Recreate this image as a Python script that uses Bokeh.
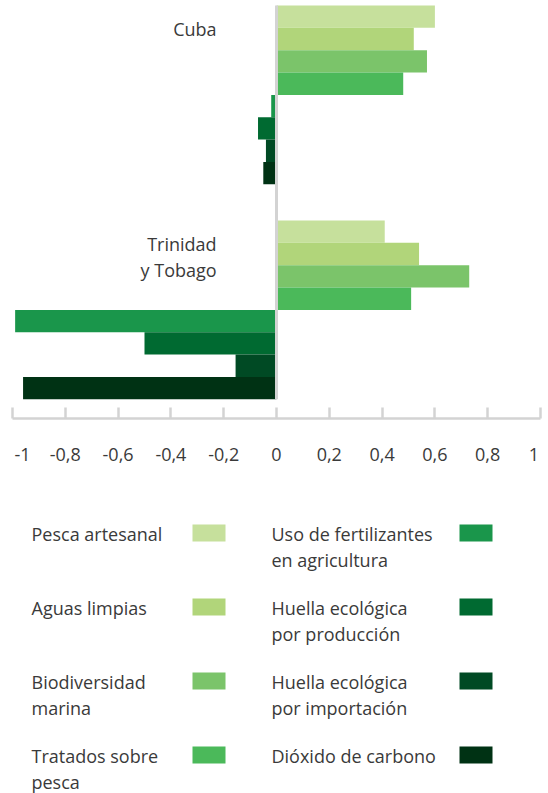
from bokeh.plotting import figure
from bokeh.models import Range1d, FixedTicker, ColumnDataSource
from bokeh.layouts import column
from bokeh.embed import file_html
from bokeh.resources import INLINE
from bokeh.core.properties import value

# ---------------- data ----------------
countries = ["Cuba", "Trinidad\ny Tobago"]
series = [
    "Pesca artesanal",
    "Aguas limpias",
    "Biodiversidad\nmarina",
    "Tratados sobre\npesca",
    "Uso de fertilizantes\nen agricultura",
    "Huella ecológica\npor producción",
    "Huella ecológica\npor importación",
    "Dióxido de carbono",
]
colors = ["#c6e09c", "#b1d57a", "#7bc46a", "#4bb95a",
          "#1a964b", "#006a31", "#004a24", "#003214"]
cuba = [0.60, 0.52, 0.57, 0.48, -0.02, -0.07, -0.04, -0.05]
trinidad = [0.41, 0.54, 0.73, 0.51, -0.99, -0.50, -0.155, -0.96]
values = [cuba, trinidad]
tick_values = [-1, -0.8, -0.6, -0.4, -0.2, 0, 0.2, 0.4, 0.6, 0.8, 1]
tick_labels = ["-1", "-0,8", "-0,6", "-0,4", "-0,2", "0",
               "0,2", "0,4", "0,6", "0,8", "1"]

FONT = "Open Sans"
TXT = "#3a3a3a"
GRAY = "#d3d3d3"
NB = "\u00a0"

# ---------------- chart ----------------
GROUP_STEP = 9.62          # slots between the tops of the two country groups
W = 548
p = figure(width=W, height=480, output_backend="svg", toolbar_location=None,
           x_range=Range1d(-1.04545, 1.0303), y_range=Range1d(18.479, -0.2237),
           min_border_left=0, min_border_right=0, min_border_top=0,
           min_border_bottom=62, y_axis_type=None)
p.outline_line_color = None
p.xgrid.visible = False
p.ygrid.visible = False
p.background_fill_color = "white"
p.border_fill_color = "white"

ys, rights, cols = [], [], []
for g, vals in enumerate(values):
    for i, v in enumerate(vals):
        ys.append(g * GROUP_STEP + i + 0.5)
        rights.append(v)
        cols.append(colors[i])
src = ColumnDataSource(dict(y=ys, right=rights, color=cols))
p.hbar(y="y", left=0, right="right", height=1.0, fill_color="color",
       line_color=None, source=src)

# zero line across the bars
p.segment(x0=[0], y0=[0], x1=[0], y1=[GROUP_STEP + len(series)],
          line_color=GRAY, line_width=3)

# country labels
lx, ly, lt = [], [], []
for g, name in enumerate(countries):
    for k, line in enumerate(name.split("\n")):
        lx.append(-0.227)
        ly.append(g * GROUP_STEP + 1.07 + k * 1.16)
        lt.append(line)
p.text(x=lx, y=ly, text=lt, text_align="right", text_baseline="middle",
       text_font=value(FONT), text_font_size="18px", text_color=TXT)

# end labels are nudged inwards as in the original
shown = list(tick_labels)
shown[0] = NB * 3 + shown[0]
shown[-1] = shown[-1] + NB * 2

ax = p.xaxis[0]
ax.ticker = FixedTicker(ticks=tick_values)
ax.major_label_overrides = {v: t for v, t in zip(tick_values, shown)}
ax.bounds = (-1, 1)
ax.axis_line_color = GRAY
ax.axis_line_width = 2.5
ax.major_tick_line_color = GRAY
ax.major_tick_line_width = 2.5
ax.major_tick_in = 11
ax.major_tick_out = 0
ax.minor_tick_line_color = None
ax.major_label_standoff = 23
ax.major_label_text_font = FONT
ax.major_label_text_font_size = "18px"
ax.major_label_text_color = TXT

# ---------------- legend ----------------
LH = 313
leg = figure(width=W, height=LH, output_backend="svg", toolbar_location=None,
             x_range=Range1d(0, W), y_range=Range1d(LH, 0),
             min_border=0, x_axis_type=None, y_axis_type=None)
leg.outline_line_color = None
leg.xgrid.visible = False
leg.ygrid.visible = False

tx, ty, tt = [], [], []
ql, qr, qt, qb, qc = [], [], [], [], []
for i, name in enumerate(series):
    col, row = i // 4, i % 4
    y0 = 53 + 74 * row
    for k, line in enumerate(name.split("\n")):
        tx.append([31, 271][col])
        ty.append(y0 + 26 * k)
        tt.append(line)
    left = [192, 459][col]
    ql.append(left); qr.append(left + 33)
    qt.append(y0 - 9); qb.append(y0 + 8)
    qc.append(colors[i])
leg.text(x=tx, y=ty, text=tt, text_align="left", text_baseline="middle",
         text_font=value(FONT), text_font_size="18px", text_color=TXT)
leg.quad(left=ql, right=qr, top=qt, bottom=qb, fill_color=qc, line_color=None)

layout = column(p, leg)
open("out.html", "w").write(file_html(layout, INLINE))
